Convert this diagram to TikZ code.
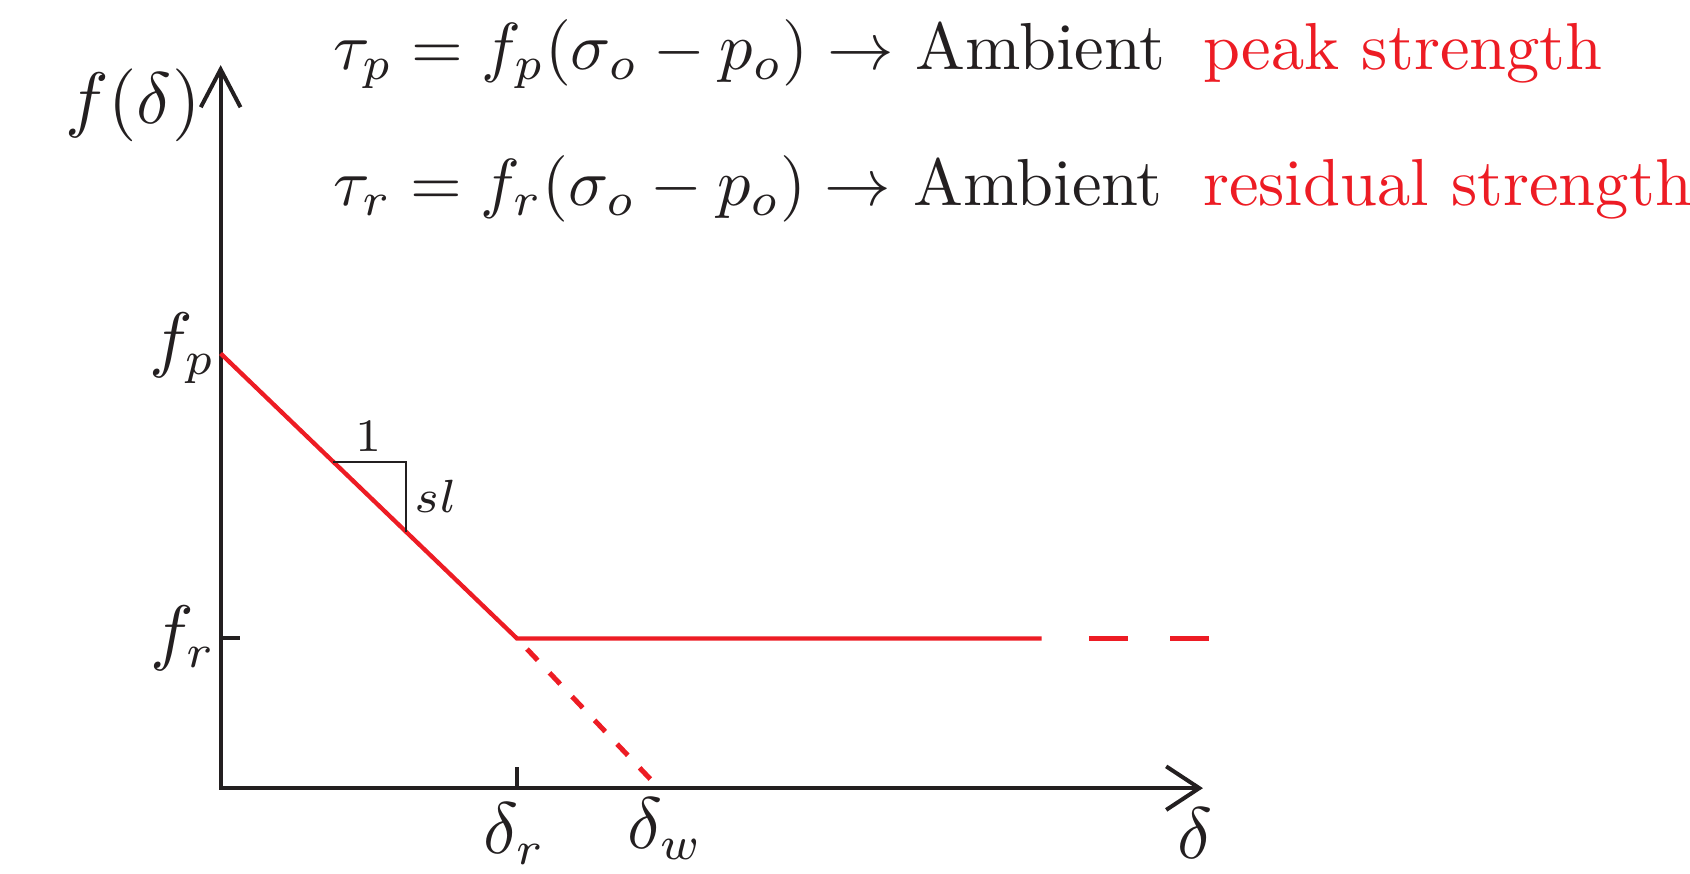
\documentclass[tikz,border=0pt]{standalone}
\usetikzlibrary{arrows.meta,calc}
\definecolor{fsred}{HTML}{ED1C24}
\definecolor{fsink}{HTML}{231F20}

\begin{document}
\begin{tikzpicture}[
  x=1cm, y=1cm,
  axis/.style    = {draw=fsink, line width=0.6pt,
                    {Straight Barb[length=2mm,width=2.1mm]}-{Straight Barb[length=1.75mm,width=2.3mm]}},
  law/.style     = {draw=fsred, line width=0.65pt},
  lawdash/.style = {law, line width=0.75pt, dash pattern=on 0.082cm off 0.091cm, dash phase=0.096cm},
  tail/.style    = {law, dash pattern=on 0.204cm off 0.223cm},
  tick/.style    = {draw=fsink, line width=0.6pt},
  slope/.style   = {draw=fsink, line width=0.35pt},
  lab/.style     = {font=\fontsize{10.5}{12.6}\selectfont, text=fsink, inner sep=0pt},
  small/.style   = {lab, font=\fontsize{7}{8.4}\selectfont},
  eqn/.style     = {lab, font=\fontsize{10}{12}\selectfont, anchor=base west},
  strong/.style  = {eqn, text=fsred},
]
\useasboundingbox (-1.166,-0.449) rectangle (7.765,4.165);
% axes
\coordinate (orig) at (0,0);
\coordinate (ytop) at (0,3.821);
\coordinate (xtip) at (5.191,0);
\draw[axis] (ytop) -- (orig) -- (xtip);
% strength law
\coordinate (fp) at (0,2.297);
\coordinate (fr) at (0,0.791);
\coordinate (kink) at (1.566,0.791);
\coordinate (dr) at (1.566,0);
\coordinate (dw) at (2.316,0);
\coordinate (flatend) at (4.339,0.791);
\coordinate (tailstart) at (4.59,0.791);
\coordinate (tailend) at (5.223,0.791);
\draw[law] (fp) -- (kink) -- (flatend);
\draw[lawdash] (kink) -- (dw);
\draw[tail] (tailstart) -- (tailend);
% ticks
\draw[tick] (fr) -- ++(0.102,0);
\draw[tick] (dr) -- ++(0,0.113);
% slope triangle
\coordinate (s1) at ($(fp)!0.38!(kink)$);
\coordinate (s3) at ($(fp)!0.625!(kink)$);
\coordinate (s2) at (s3 |- s1);
\draw[slope] (s1) -- (s2) -- (s3);
\node[small] (one) at (0.780,1.860) {$1$};
\node[small, anchor=west] (sllab) at (1.016,1.540) {$sl$};
% axis labels
\node[lab, anchor=east] (fdlab) at (-0.10,3.61) {$f(\delta)$};
\node[lab, anchor=east] (fplab) at (-0.02,2.325) {$f_p$};
\node[lab, anchor=east] (frlab) at (-0.02,0.793) {$f_r$};
\node[lab, anchor=north] (drlab) at (1.553,-0.072) {$\delta_r$};
\node[lab, anchor=north] (dwlab) at (2.349,-0.046) {$\delta_w$};
\node[lab, anchor=north] (dlab) at (5.15,-0.099) {$\delta$};
% strengths
\node[eqn] (taup) at (0.588,3.80) {$\tau_p = f_p(\sigma_o - p_o) \rightarrow$ Ambient};
\node[strong] (peak) at (5.185,3.80) {peak strength};
\node[eqn] (taur) at (0.588,3.08) {$\tau_r = f_r(\sigma_o - p_o) \rightarrow$ Ambient};
\node[strong] (resid) at (5.185,3.08) {residual strength};
\end{tikzpicture}
\end{document}
